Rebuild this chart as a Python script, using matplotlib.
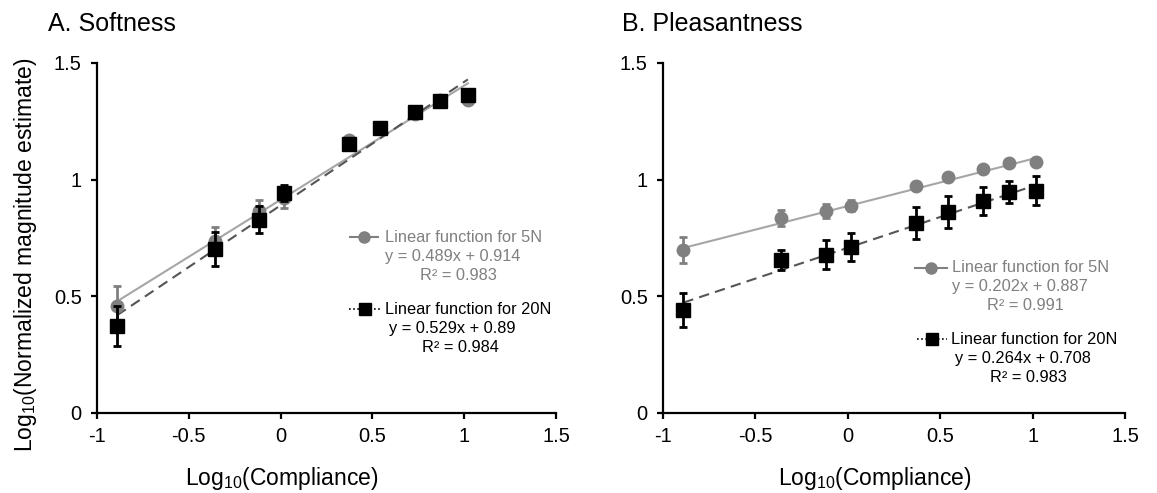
import matplotlib
matplotlib.use("Agg")
import matplotlib.pyplot as plt
from matplotlib.lines import Line2D
import numpy as np

plt.rcParams['font.family'] = ['Liberation Sans', 'DejaVu Sans']
plt.rcParams['mathtext.fontset'] = 'custom'
plt.rcParams['mathtext.rm'] = 'Liberation Sans'
plt.rcParams['mathtext.it'] = 'Liberation Sans:italic'

# ---- data ----
log_compliance = [-0.89, -0.36, -0.12, 0.02, 0.37, 0.54, 0.73, 0.87, 1.02]

soft_5n = [0.457, 0.736, 0.864, 0.92, 1.171, 1.22, 1.283, 1.34, 1.343]
soft_5n_err = [0.086, 0.06, 0.047, 0.04, 0.015, 0.012, 0.012, 0.012, 0.015]
soft_20n = [0.374, 0.703, 0.829, 0.943, 1.154, 1.221, 1.29, 1.339, 1.364]
soft_20n_err = [0.086, 0.071, 0.057, 0.033, 0.02, 0.015, 0.015, 0.015, 0.02]

pleas_5n = [0.699, 0.835, 0.865, 0.889, 0.975, 1.011, 1.047, 1.071, 1.077]
pleas_5n_err = [0.055, 0.033, 0.03, 0.025, 0.012, 0.01, 0.01, 0.01, 0.012]
pleas_20n = [0.442, 0.656, 0.679, 0.711, 0.815, 0.861, 0.908, 0.949, 0.953]
pleas_20n_err = [0.073, 0.044, 0.063, 0.061, 0.07, 0.067, 0.06, 0.047, 0.062]

fits = {
    'soft_5n': (0.489, 0.914), 'soft_20n': (0.529, 0.89),
    'pleas_5n': (0.202, 0.887), 'pleas_20n': (0.264, 0.708),
}
eq_text = {
    'soft_5n': ("Linear function for 5N", "y = 0.489x + 0.914", "R² = 0.983"),
    'soft_20n': ("Linear function for 20N", "y = 0.529x + 0.89", "R² = 0.984"),
    'pleas_5n': ("Linear function for 5N", "y = 0.202x + 0.887", "R² = 0.991"),
    'pleas_20n': ("Linear function for 20N", "y = 0.264x + 0.708", "R² = 0.983"),
}
titles = ["A. Softness", "B. Pleasantness"]
xticks = [-1, -0.5, 0, 0.5, 1, 1.5]
xtick_labels = ["-1", "-0.5", "0", "0.5", "1", "1.5"]
yticks = [0, 0.5, 1, 1.5]
ytick_labels = ["0", "0.5", "1", "1.5"]

W, H = 1157, 493
fig = plt.figure(figsize=(W / 100, H / 100), dpi=100)

GRAY_M = '#808080'
GRAY_L = '#a6a6a6'
DASH = '#555555'

def fx(px):
    return px / W

def fy(py):
    return 1 - py / H

axes_px = [(97, 556), (663, 1125)]
top, bottom = 63, 413
axs = []
for (l, r) in axes_px:
    ax = fig.add_axes([fx(l), fy(bottom), fx(r - l), (bottom - top) / H])
    axs.append(ax)

panels = [
    (soft_5n, soft_5n_err, soft_20n, soft_20n_err, 'soft_5n', 'soft_20n'),
    (pleas_5n, pleas_5n_err, pleas_20n, pleas_20n_err, 'pleas_5n', 'pleas_20n'),
]

x = np.array(log_compliance)
for ax, (y5, e5, y20, e20, k5, k20) in zip(axs, panels):
    xl = np.array([x.min(), x.max()])
    m, b = fits[k5]
    ax.plot(xl, m * xl + b, color=GRAY_L, lw=1.5, zorder=2)
    m, b = fits[k20]
    ax.plot(xl, m * xl + b, color=DASH, lw=1.5, ls=(0, (5, 3)), zorder=2)
    ax.errorbar(x, y5, yerr=e5, fmt='o', color=GRAY_M, ecolor=GRAY_M,
                ms=9, elinewidth=2, capsize=3, capthick=2, zorder=3)
    ax.errorbar(x, y20, yerr=e20, fmt='s', color='black', ecolor='black',
                ms=10, elinewidth=2, capsize=3, capthick=2, zorder=4)
    ax.set_xlim(-1, 1.5)
    ax.set_ylim(0, 1.5)
    ax.set_xticks(xticks)
    ax.set_xticklabels(xtick_labels)
    ax.set_yticks(yticks)
    ax.set_yticklabels(ytick_labels)
    for s in ['top', 'right']:
        ax.spines[s].set_visible(False)
    for s in ['left', 'bottom']:
        ax.spines[s].set_linewidth(1.6)
    ax.tick_params(direction='out', length=4, width=1.6, labelsize=14.5, pad=6)
    ax.tick_params(axis='y', pad=7)
    ax.patch.set_alpha(0)

# titles
fig.text(fx(48), fy(24), titles[0], fontsize=18, ha='left', va='center')
fig.text(fx(622), fy(24), titles[1], fontsize=18, ha='left', va='center')

# axis labels
fig.text(fx(282), fy(479), r"Log$_{\mathregular{10}}$(Compliance)", fontsize=16.5,
         ha='center', va='center')
fig.text(fx(875), fy(479), r"Log$_{\mathregular{10}}$(Compliance)", fontsize=16.5,
         ha='center', va='center')
fig.text(fx(26), fy(255), r"Log$_{\mathregular{10}}$(Normalized magnitude estimate)",
         fontsize=16.5, rotation=90, ha='center', va='center')

# legends (trendline labels)
def legend_block(mx0, mx1, tx, y1, cx, kind, key):
    name, eq, r2 = eq_text[key]
    ymid = fy(y1)
    if kind == '5n':
        fig.add_artist(Line2D([fx(mx0), fx(mx1)], [ymid, ymid], color=GRAY_M, lw=1.5,
                              transform=fig.transFigure))
        fig.add_artist(Line2D([fx((mx0 + mx1) / 2)], [ymid], color=GRAY_M, marker='o',
                              ms=8, transform=fig.transFigure))
        col = GRAY_M
    else:
        fig.add_artist(Line2D([fx(mx0), fx(mx1)], [ymid, ymid], color='black', lw=1.2,
                              ls=(0, (1, 1.5)), transform=fig.transFigure))
        fig.add_artist(Line2D([fx((mx0 + mx1) / 2)], [ymid], color='black', marker='s',
                              ms=9, transform=fig.transFigure))
        col = 'black'
    fig.text(fx(tx), ymid, name, color=col, fontsize=11.8, ha='left', va='center')
    fig.text(fx(cx[0]), fy(y1 + 19), eq, color=col, fontsize=11.8, ha='center', va='center')
    fig.text(fx(cx[1]), fy(y1 + 38), r2, color=col, fontsize=11.8, ha='center', va='center')

legend_block(350, 378, 385, 237, (453, 458), '5n', 'soft_5n')
legend_block(349, 380, 385, 309, (452, 460), '20n', 'soft_20n')
legend_block(915, 947, 952, 268, (1020, 1025), '5n', 'pleas_5n')
legend_block(917, 947, 951, 339, (1023, 1028), '20n', 'pleas_20n')

fig.savefig("out.png", dpi=100)
